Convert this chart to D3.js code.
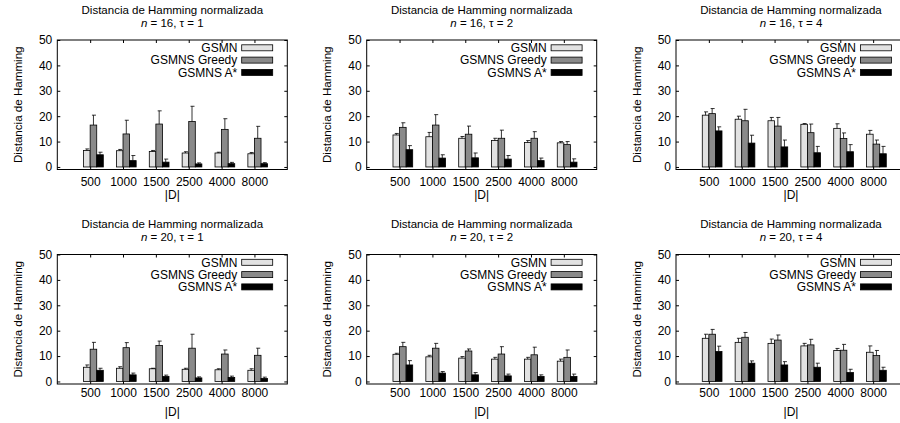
<!DOCTYPE html>
<html>
<head>
<meta charset="utf-8">
<script src="https://cdn.jsdelivr.net/npm/d3@7"></script>
<style>
  body { margin: 0; background: #fff; }
  text { font-family: "Liberation Sans", Arial, sans-serif; font-size: 12px; fill: #000; }
</style>
</head>
<body>
<script>
// Set SVG width and height
var width = 900,
    height = 423;

// Panel layout constants
const plotW = 230,
      plotH = 129.5,
      colLeft = [57.3, 366.7, 676],
      rowTop = [40, 254.5];
const tickLabelY = [186, 397],
      xLabelY = [199, 416],
      title1Y = [14, 227.5],
      title2Y = [27.3, 241];

// Data
const sizes = ['500', '1000', '1500', '2500', '4000', '8000'];
const series = ['GSMN', 'GSMNS Greedy', 'GSMNS A*'];
const panelN = [16, 16, 16, 20, 20, 20];
const panelTau = [1, 2, 4, 1, 2, 4];
const yTicks = [0, 10, 20, 30, 40, 50];

// mean values, one row per panel
const gsmnMean = [
  [6.5, 6.4, 6.1, 5.5, 5.5, 5.2],
  [12.6, 11.9, 11.3, 10.4, 9.6, 9.5],
  [20.4, 18.8, 18.2, 16.8, 15.2, 12.9],
  [5.6, 5.2, 5.0, 4.8, 4.6, 4.4],
  [10.7, 9.7, 9.2, 8.8, 8.8, 8.0],
  [17.0, 15.4, 15.0, 14.0, 12.2, 11.5]
];
const greedyMean = [
  [16.5, 13.0, 16.9, 17.9, 14.8, 11.3],
  [15.6, 16.5, 12.9, 11.3, 11.3, 8.8],
  [21.0, 18.2, 16.1, 13.5, 11.2, 9.0],
  [12.7, 13.3, 14.2, 13.1, 10.8, 10.3],
  [13.7, 13.1, 12.0, 10.8, 10.5, 9.5],
  [18.6, 17.4, 16.3, 14.4, 12.3, 10.2]
];
const astarMean = [
  [4.8, 2.5, 1.9, 1.2, 1.3, 1.3],
  [6.8, 3.5, 3.6, 3.1, 2.5, 1.9],
  [14.2, 9.4, 7.9, 5.6, 6.0, 5.2],
  [4.4, 2.6, 2.0, 1.4, 1.6, 1.2],
  [6.5, 3.3, 2.6, 2.2, 2.0, 2.0],
  [11.8, 7.2, 6.5, 5.6, 3.5, 4.4]
];
// error bar sizes (upper part)
const gsmnErr = [
  [0.6, 0.5, 0.4, 0.5, 0.3, 0.5],
  [0.6, 1.7, 0.7, 0.9, 0.8, 0.5],
  [1.3, 1.2, 1.3, 0.3, 1.8, 1.5],
  [0.9, 0.6, 0.2, 0.4, 0.4, 0.6],
  [0.4, 0.6, 0.6, 0.7, 0.7, 0.8],
  [1.6, 1.6, 1.7, 1.0, 0.8, 2.5]
];
const greedyErr = [
  [3.9, 5.4, 5.2, 6.0, 4.2, 4.7],
  [1.8, 4.1, 3.2, 3.2, 2.6, 1.2],
  [2.0, 4.5, 3.4, 3.4, 2.2, 1.6],
  [2.7, 2.0, 1.7, 5.5, 1.6, 2.8],
  [1.7, 1.9, 0.8, 2.9, 3.0, 2.9],
  [1.9, 1.9, 2.0, 2.2, 2.3, 2.0]
];
const astarErr = [
  [1.0, 2.0, 1.2, 0.4, 0.5, 0.4],
  [1.6, 1.3, 1.9, 1.4, 1.0, 1.3],
  [1.6, 3.1, 2.7, 2.5, 2.8, 2.9],
  [0.8, 0.7, 0.5, 0.4, 0.5, 0.5],
  [1.7, 0.6, 0.9, 0.7, 0.6, 0.9],
  [2.1, 0.9, 1.3, 1.6, 1.3, 1.2]
];

const fills = ['#e2e2e2', '#8a8a8a', '#000000'];
const barW = 0.2;

var svg = d3.select('body').append('svg')
    .attr('width', width)
    .attr('height', height);

for (let p = 0; p < 6; p++) {
  const row = Math.floor(p / 3), col = p % 3;
  const left = colLeft[col], top = rowTop[row];
  const g = svg.append('g').attr('transform', 'translate(' + left + ',' + top + ')');

  const x = d3.scaleLinear().domain([0, 7]).range([0, plotW]);
  const y = d3.scaleLinear().domain([-1, 50]).range([plotH, 0]);

  const means = [gsmnMean[p], greedyMean[p], astarMean[p]];
  const errs = [gsmnErr[p], greedyErr[p], astarErr[p]];

  // axes with inward ticks, mirrored
  const yAxis = g.append('g')
      .call(d3.axisLeft(y).tickValues(yTicks).tickSize(-3).tickPadding(5));
  g.append('g').attr('transform', 'translate(' + plotW + ',0)')
      .call(d3.axisRight(y).tickValues(yTicks).tickSize(-3).tickFormat(''));
  const xAxis = g.append('g').attr('transform', 'translate(0,' + plotH + ')')
      .call(d3.axisBottom(x).tickValues([1, 2, 3, 4, 5, 6]).tickSize(-3)
        .tickFormat(function(d) { return sizes[d - 1]; }));
  g.append('g')
      .call(d3.axisTop(x).tickValues([1, 2, 3, 4, 5, 6]).tickSize(-3).tickFormat(''));
  g.selectAll('.domain').remove();
  g.selectAll('.tick line').attr('stroke', '#000');
  yAxis.selectAll('text').style('font-size', '12px').attr('font-family', null);
  xAxis.selectAll('text').attr('y', null).attr('dy', null)
      .attr('transform', 'translate(0,' + (tickLabelY[row] - top - plotH) + ')')
      .style('font-size', '12px').attr('font-family', null);

  // bars
  for (let s = 0; s < 3; s++) {
    const gs = g.append('g');
    gs.selectAll('rect')
      .data(means[s])
      .enter()
      .append('rect')
      .attr('x', function(d, i) { return x(i + 1 + (s - 1) * barW); })
      .attr('y', function(d) { return y(d); })
      .attr('width', x(barW) - x(0))
      .attr('height', function(d) { return y(0) - y(d); })
      .attr('fill', fills[s])
      .attr('stroke', '#000')
      .attr('stroke-width', 0.8);

    gs.selectAll('line.err')
      .data(means[s])
      .enter()
      .append('line')
      .attr('class', 'err')
      .attr('x1', function(d, i) { return x(i + 1 + (s - 0.5) * barW); })
      .attr('x2', function(d, i) { return x(i + 1 + (s - 0.5) * barW); })
      .attr('y1', function(d) { return y(d); })
      .attr('y2', function(d, i) { return y(d + errs[s][i]); })
      .attr('stroke', '#000')
      .attr('stroke-width', 0.8);

    gs.selectAll('line.cap')
      .data(means[s])
      .enter()
      .append('line')
      .attr('class', 'cap')
      .attr('x1', function(d, i) { return x(i + 1 + (s - 0.5) * barW) - 1.5; })
      .attr('x2', function(d, i) { return x(i + 1 + (s - 0.5) * barW) + 2.5; })
      .attr('y1', function(d, i) { return y(d + errs[s][i]); })
      .attr('y2', function(d, i) { return y(d + errs[s][i]); })
      .attr('stroke', '#000')
      .attr('stroke-width', 0.8);
  }

  // frame
  g.append('rect')
    .attr('x', 0).attr('y', 0)
    .attr('width', plotW).attr('height', plotH)
    .attr('fill', 'none')
    .attr('stroke', '#000')
    .attr('stroke-width', 1);

  // legend
  series.forEach(function(name, s) {
    const cy = 7.8 + s * 12.3;
    g.append('text')
      .attr('x', plotW - 50)
      .attr('y', cy + 4.3)
      .attr('text-anchor', 'end')
      .text(name);
    g.append('rect')
      .attr('x', plotW - 45.6)
      .attr('y', cy - 3)
      .attr('width', 31)
      .attr('height', 6)
      .attr('fill', fills[s])
      .attr('stroke', '#000')
      .attr('stroke-width', 0.8);
  });

  // titles
  const cx = left + plotW / 2;
  svg.append('text')
    .attr('x', cx).attr('y', title1Y[row])
    .attr('text-anchor', 'middle')
    .style('font-size', '11.5px')
    .text('Distancia de Hamming normalizada');
  const t2 = svg.append('text')
    .attr('x', cx).attr('y', title2Y[row])
    .attr('text-anchor', 'middle')
    .style('font-size', '11.5px');
  t2.append('tspan').attr('font-style', 'italic').text('n');
  t2.append('tspan').text(' = ' + panelN[p] + ', \u03C4 = ' + panelTau[p]);

  // axis labels
  svg.append('text')
    .attr('x', cx).attr('y', xLabelY[row])
    .attr('text-anchor', 'middle')
    .text('|D|');
  svg.append('text')
    .attr('transform', 'translate(' + (left - 35.5) + ',' + (top + plotH / 2) + ') rotate(-90)')
    .attr('text-anchor', 'middle')
    .style('font-size', '11.6px')
    .text('Distancia de Hamming');
}
</script>
</body>
</html>
